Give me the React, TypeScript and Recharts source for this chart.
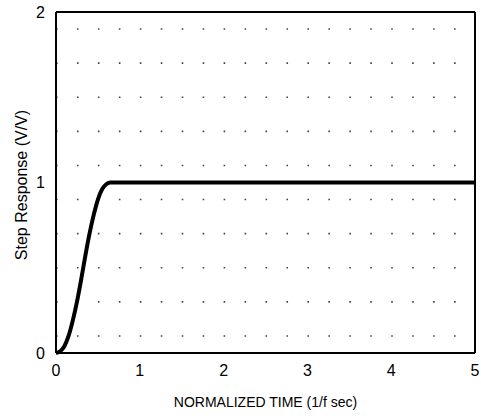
import { LineChart, Line, XAxis, YAxis, CartesianGrid, ReferenceLine, Label } from 'recharts'

// normalized time (1/f sec) and step response (V/V)
const time = [0, 0.05, 0.1, 0.15, 0.2, 0.25, 0.3, 0.35, 0.4, 0.45, 0.5, 0.55, 0.6, 0.65, 0.7, 1, 2, 3, 4, 5]
const response = [0, 0.01, 0.04, 0.1, 0.19, 0.3, 0.43, 0.57, 0.7, 0.81, 0.9, 0.96, 0.99, 1, 1, 1, 1, 1, 1, 1]
const xTicks = [0, 1, 2, 3, 4, 5]
const yTicks = [0, 1, 2]
const gridRows = Array.from({ length: 19 }, (_, i) => (i + 1) / 10)

const data = time.map((t, i) => ({ t, v: response[i] }))
const font = '"Liberation Sans", Arial, sans-serif'

export default function App() {
  return (
    <div style={{ position: 'absolute', left: 0, top: 0, background: '#fff' }}>
      <LineChart width={481} height={416} data={data} margin={{ top: 12, right: 6, bottom: 13, left: 16 }}>
        <CartesianGrid vertical={false} horizontalValues={gridRows} stroke="#444" strokeWidth={1.6} strokeDasharray="1.6 19.35" />
        <XAxis
          type="number"
          dataKey="t"
          domain={[0, 5]}
          ticks={xTicks}
          height={50}
          tickSize={0}
          tickMargin={12}
          tickLine={false}
          axisLine={{ stroke: '#000', strokeWidth: 2 }}
          tick={{ fill: '#000', fontSize: 16, fontFamily: font }}
        >
          <Label value="NORMALIZED TIME (1/f sec)" position="insideBottom" offset={-4} style={{ fill: '#000', fontSize: 14, fontFamily: font }} />
        </XAxis>
        <YAxis
          type="number"
          domain={[0, 2]}
          ticks={yTicks}
          width={40}
          tickSize={0}
          tickMargin={11}
          tickLine={false}
          axisLine={{ stroke: '#000', strokeWidth: 2 }}
          tick={{ fill: '#000', fontSize: 16, fontFamily: font }}
        >
          <Label
            content={() => (
              <text x={21} y={185} transform="rotate(-90 21 185)" textAnchor="middle" dominantBaseline="central" style={{ fill: '#000', fontSize: 16, fontFamily: font }}>
                Step Response (V/V)
              </text>
            )}
          />
        </YAxis>
        <ReferenceLine y={2} stroke="#000" strokeWidth={2} />
        <ReferenceLine x={5} stroke="#000" strokeWidth={2} />
        <Line type="monotone" dataKey="v" stroke="#000" strokeWidth={4} dot={false} isAnimationActive={false} />
      </LineChart>
    </div>
  )
}
